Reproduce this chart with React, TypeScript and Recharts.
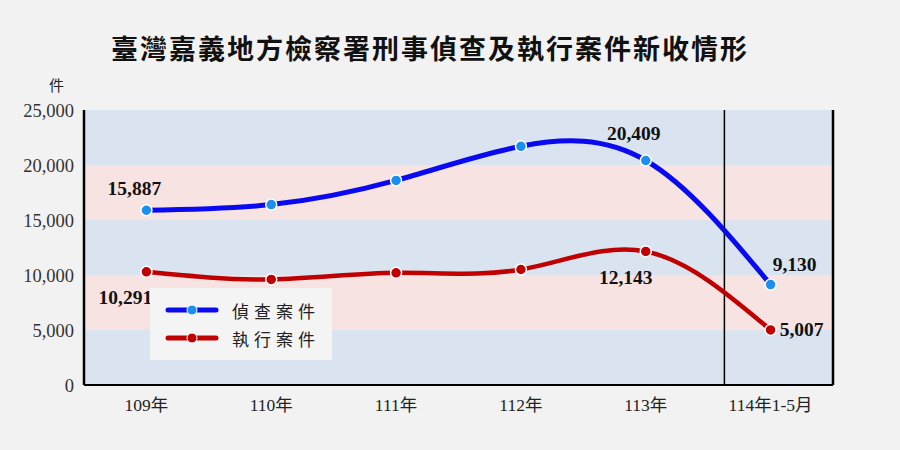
import React from 'react';
import {
  LabelList,
  Line,
  LineChart,
  ReferenceArea,
  ReferenceLine,
  XAxis,
  YAxis,
} from 'recharts';

const CATEGORIES = ['109年', '110年', '111年', '112年', '113年', '114年1-5月'];
const INVESTIGATION = [15887, 16400, 18600, 21700, 20409, 9130];
const EXECUTION = [10291, 9600, 10200, 10500, 12143, 5007];
const Y_TICKS = [0, 5000, 10000, 15000, 20000, 25000];
const LABELLED = [0, 4, 5];

const BG = '#f2f2f2';
const BAND_BLUE = '#d9e4f0';
const BAND_PINK = '#f8e3e3';
const BLUE_LINE = '#0a0af0';
const BLUE_DOT = '#1b8ff0';
const RED_LINE = '#c00000';
const SERIF = '"Liberation Serif", "Noto Sans CJK TC", serif';
const CJK = '"Noto Sans CJK TC", "Noto Sans CJK JP", sans-serif';

// each category sits in the middle of its own slot on a 0..6 numeric axis
const data = CATEGORIES.map((name, i) => ({
  name,
  x: i + 0.5,
  inv: INVESTIGATION[i],
  exe: EXECUTION[i],
}));
const X_TICKS = data.map((d) => d.x);

// label offsets relative to each point, per series
const INV_OFFSET: Record<number, [number, number]> = {
  0: [-12, -22],
  4: [-12, -27],
  5: [24, -20],
};
const EXE_OFFSET: Record<number, [number, number]> = {
  0: [-21, 26],
  4: [-20, 26],
  5: [31, 0],
};

function makeLabel(offsets: Record<number, [number, number]>) {
  return (props: any) => {
    const { x, y, value, index } = props;
    if (!LABELLED.includes(index)) return null;
    const [dx, dy] = offsets[index];
    return (
      <text
        x={x + dx}
        y={y + dy}
        textAnchor="middle"
        dominantBaseline="central"
        fontFamily={SERIF}
        fontWeight={700}
        fontSize={19.5}
        fill="#111"
      >
        {Number(value).toLocaleString('en-US')}
      </text>
    );
  };
}

function LegendBox() {
  const rows = [
    { label: '偵查案件', line: BLUE_LINE, dot: BLUE_DOT },
    { label: '執行案件', line: RED_LINE, dot: RED_LINE },
  ];
  return (
    <div
      style={{
        position: 'absolute',
        left: 150,
        top: 288,
        width: 182,
        height: 72,
        background: '#f4f4f4',
        paddingTop: 8,
        boxSizing: 'border-box',
      }}
    >
      {rows.map((r) => (
        <div key={r.label} style={{ display: 'flex', alignItems: 'center', height: 28 }}>
          <svg width={70} height={20} style={{ marginLeft: 15 }}>
            <line x1={3} y1={10} x2={51} y2={10} stroke={r.line} strokeWidth={5} strokeLinecap="round" />
            <circle cx={27} cy={10} r={5} fill={r.dot} stroke="#fff" strokeWidth={1} />
          </svg>
          <span
            style={{
              fontFamily: CJK,
              fontSize: 17,
              letterSpacing: 5,
              color: '#222',
              marginLeft: -3,
            }}
          >
            {r.label}
          </span>
        </div>
      ))}
    </div>
  );
}

export default function App() {
  return (
    <div
      style={{
        position: 'absolute',
        left: 0,
        top: 0,
        width: 900,
        height: 450,
        background: BG,
      }}
    >
      <div
        style={{
          position: 'absolute',
          top: 28,
          left: 0,
          width: 860,
          textAlign: 'center',
          fontFamily: CJK,
          fontWeight: 700,
          fontSize: 27,
          letterSpacing: 2,
          color: '#111',
        }}
      >
        臺灣嘉義地方檢察署刑事偵查及執行案件新收情形
      </div>
      <div
        style={{
          position: 'absolute',
          top: 74,
          left: 49,
          fontFamily: CJK,
          fontSize: 15,
          color: '#222',
        }}
      >
        件
      </div>
      <LineChart
        width={900}
        height={450}
        data={data}
        margin={{ top: 110, right: 67, bottom: 35, left: 0 }}
      >
        {Y_TICKS.slice(0, -1).map((t, i) => (
          <ReferenceArea
            key={t}
            y1={t}
            y2={Y_TICKS[i + 1]}
            fill={i % 2 === 0 ? BAND_BLUE : BAND_PINK}
            fillOpacity={1}
            stroke="none"
          />
        ))}
        <XAxis
          dataKey="x"
          type="number"
          domain={[0, 6]}
          ticks={X_TICKS}
          tickFormatter={(v: number) => CATEGORIES[Math.floor(v)]}
          height={30}
          tickLine={false}
          axisLine={{ stroke: '#000', strokeWidth: 2 }}
          tick={{ fontFamily: SERIF, fontSize: 17.5, fill: '#222' }}
          tickMargin={8}
        />
        <YAxis
          width={84}
          domain={[0, 25000]}
          ticks={Y_TICKS}
          tickLine={false}
          axisLine={{ stroke: '#000', strokeWidth: 2.5 }}
          tick={{ fontFamily: SERIF, fontSize: 18.5, fill: '#333' }}
          tickFormatter={(v: number) => v.toLocaleString('en-US')}
          tickMargin={4}
        />
        <ReferenceLine x={5.13} stroke="#000" strokeWidth={1.5} />
        <ReferenceLine x={6} stroke="#000" strokeWidth={2.5} />
        <Line
          type="natural"
          dataKey="inv"
          name="偵查案件"
          stroke={BLUE_LINE}
          strokeWidth={5}
          dot={{ r: 5.5, fill: BLUE_DOT, stroke: '#fff', strokeWidth: 1.5 }}
          activeDot={false}
          isAnimationActive={false}
        >
          <LabelList dataKey="inv" content={makeLabel(INV_OFFSET)} />
        </Line>
        <Line
          type="natural"
          dataKey="exe"
          name="執行案件"
          stroke={RED_LINE}
          strokeWidth={4.5}
          dot={{ r: 5.5, fill: RED_LINE, stroke: '#fff', strokeWidth: 1.5 }}
          activeDot={false}
          isAnimationActive={false}
        >
          <LabelList dataKey="exe" content={makeLabel(EXE_OFFSET)} />
        </Line>
      </LineChart>
      <LegendBox />
    </div>
  );
}
